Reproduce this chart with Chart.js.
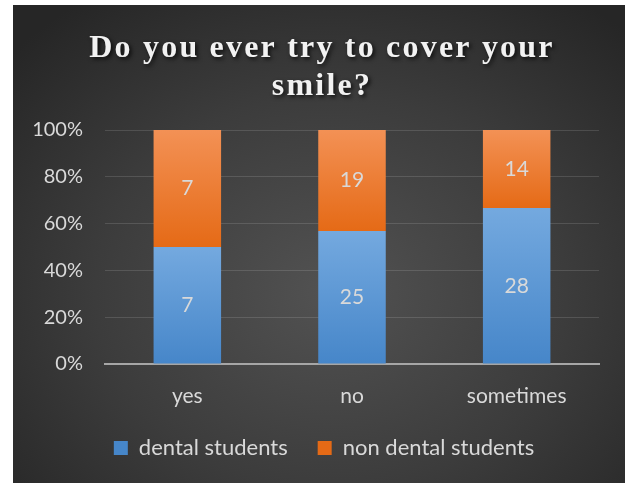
<!DOCTYPE html>
<html>
<head>
<meta charset="utf-8">
<script src="https://cdn.jsdelivr.net/npm/chart.js@4.4.1/dist/chart.umd.min.js"></script>
<style>
  html, body { margin: 0; padding: 0; background: #fff; }
  #wrap {
    position: absolute; left: 13px; top: 5px; width: 612px; height: 478px;
    background: radial-gradient(ellipse 70% 75% at 52% 60%, #525252 0%, #3c3c3c 55%, #262626 100%);
  }
</style>
</head>
<body>
<div id="wrap"><canvas id="chart" width="612" height="478"></canvas></div>
<script>
const categories = ['yes', 'no', 'sometimes'];
const dentalCounts = [7, 25, 28];
const nonDentalCounts = [7, 19, 14];
const seriesNames = ['dental students', 'non dental students'];
const titleLines = ['Do you ever try to cover your', 'smile?'];

// 100% stacked: turn counts into shares of each category
const totals = categories.map((c, i) => dentalCounts[i] + nonDentalCounts[i]);
const dentalPct = dentalCounts.map((v, i) => v / totals[i] * 100);
const nonDentalPct = nonDentalCounts.map((v, i) => v / totals[i] * 100);

const textColor = '#d9d9d9';
const font = 'Lato, "Open Sans", sans-serif';

function barGradient(topColor, bottomColor, below) {
  return function (ctx) {
    const chart = ctx.chart;
    const y = chart.scales.y;
    if (!chart.chartArea || !y || ctx.dataIndex == null) return bottomColor;
    const base = below ? below[ctx.dataIndex] : 0;
    const v = ctx.dataset.data[ctx.dataIndex];
    const top = y.getPixelForValue(base + v);
    const bottom = y.getPixelForValue(base);
    if (!isFinite(top) || !isFinite(bottom)) return bottomColor;
    const g = chart.ctx.createLinearGradient(0, top, 0, bottom);
    g.addColorStop(0, topColor);
    g.addColorStop(1, bottomColor);
    return g;
  };
}

// title with letter spacing and shadow, drawn in the space left by layout padding
const titlePlugin = {
  id: 'spacedTitle',
  afterDraw(chart) {
    const ctx = chart.ctx;
    ctx.save();
    ctx.font = 'bold 32px "Liberation Serif", "Times New Roman", serif';
    ctx.letterSpacing = '2.2px';
    ctx.textAlign = 'center';
    ctx.textBaseline = 'alphabetic';
    ctx.fillStyle = '#f2f2f2';
    ctx.shadowColor = 'rgba(0,0,0,0.75)';
    ctx.shadowBlur = 4;
    ctx.shadowOffsetX = 2;
    ctx.shadowOffsetY = 2;
    ctx.fillText(titleLines[0], 309, 52);
    ctx.fillText(titleLines[1], 309, 90);
    ctx.restore();
  }
};

// legend sits a bit right of centre in the original
const legendShift = {
  id: 'legendShift',
  afterLayout(chart) {
    chart.legend.left += 18;
    chart.legend.right += 18;
  }
};

// count labels in the middle of each segment
const countLabels = {
  id: 'countLabels',
  afterDatasetsDraw(chart) {
    const ctx = chart.ctx;
    const counts = [dentalCounts, nonDentalCounts];
    ctx.save();
    ctx.font = '21px ' + font;
    ctx.fillStyle = textColor;
    ctx.textAlign = 'center';
    ctx.textBaseline = 'middle';
    chart.data.datasets.forEach((ds, d) => {
      chart.getDatasetMeta(d).data.forEach((bar, i) => {
        const mid = (bar.y + bar.base) / 2;
        ctx.fillText(String(counts[d][i]), bar.x, mid);
      });
    });
    ctx.restore();
  }
};

new Chart(document.getElementById('chart'), {
  type: 'bar',
  data: {
    labels: categories,
    datasets: [
      {
        label: seriesNames[0],
        data: dentalPct,
        backgroundColor: barGradient('#74a9df', '#4686c9'),
        borderWidth: 0,
        categoryPercentage: 1,
        barPercentage: 0.41
      },
      {
        label: seriesNames[1],
        data: nonDentalPct,
        backgroundColor: barGradient('#f39155', '#e56a16', dentalPct),
        borderWidth: 0,
        categoryPercentage: 1,
        barPercentage: 0.41
      }
    ]
  },
  options: {
    responsive: false,
    animation: false,
    layout: { padding: { top: 125, right: 26, left: 0, bottom: 14 } },
    plugins: {
      title: { display: false },
      tooltip: { enabled: false },
      legend: {
        position: 'bottom',
        labels: {
          color: textColor,
          font: { family: font, size: 22 },
          boxWidth: 14,
          boxHeight: 14,
          padding: 30
        }
      }
    },
    scales: {
      x: {
        stacked: true,
        grid: { display: false },
        border: { display: true, color: '#a6a6a6', width: 2 },
        ticks: { color: textColor, font: { family: font, size: 21 }, padding: 12 },
        afterFit(scale) { scale.height = 43; }
      },
      y: {
        stacked: true,
        min: 0,
        max: 100,
        ticks: {
          stepSize: 20,
          color: textColor,
          font: { family: font, size: 20 },
          padding: 22,
          callback: v => v + '%'
        },
        grid: { color: 'rgba(255,255,255,0.13)', drawTicks: false },
        border: { display: false },
        afterFit(scale) { scale.width = 92; }
      }
    }
  },
  plugins: [titlePlugin, legendShift, countLabels]
});
</script>
</body>
</html>
